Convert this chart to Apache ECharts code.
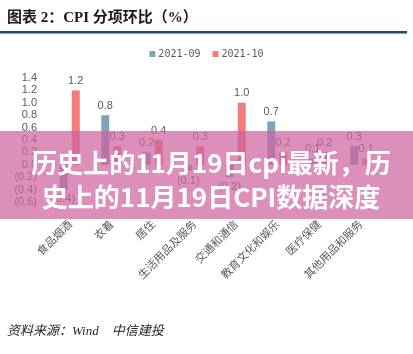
<!DOCTYPE html>
<html>
<head>
<meta charset="utf-8">
<script src="https://cdn.jsdelivr.net/npm/echarts@6/dist/echarts.min.js"></script>
<style>
html,body{margin:0;padding:0;background:#fff;}
#c{width:413px;height:354px;}
</style>
</head>
<body>
<div id="c"></div>
<script>
var categories = ['食品烟酒','衣着','居住','生活用品及服务','交通和通信','教育文化和娱乐','医疗保健','其他用品和服务'];
var seriesNames = ['2021-09','2021-10'];
var sep2021 = [-0.4, 0.8, 0.2, -0.1, -0.2, 0.7, 0.1, 0.3];
var oct2021 = [1.2, 0.3, 0.4, 0.3, 1.0, 0.2, 0.2, 0.1];
var yTicks = { min: -0.6, max: 1.4, step: 0.2 };

function fmt(v){ v = Number(v); return v < 0 ? '(' + Math.abs(v).toFixed(1) + ')' : v.toFixed(1); }

var chart = echarts.init(document.getElementById('c'), null, {renderer:'canvas'});
var labelStyle = {
  show: true,
  fontSize: 11,
  color: '#595959',
  fontFamily: 'Liberation Sans, Arial, sans-serif',
  formatter: function(p){ return fmt(p.value); },
  position: 'top',
  distance: 4
};
function mkData(arr){
  return arr.map(function(v){
    return v < 0 ? { value: v, label: { position: 'bottom' } } : v;
  });
}
chart.setOption({
  animation: false,
  backgroundColor: '#ffffff',
  legend: {
    top: 44,
    left: 'center',
    itemWidth: 6,
    itemHeight: 6,
    itemGap: 12,
    icon: 'rect',
    textStyle: { fontSize: 10, color: '#595959', fontFamily: 'DejaVu Sans Mono, monospace', padding: [0,0,0,-2] },
    data: seriesNames
  },
  grid: { left: 49, right: 32, top: 78, bottom: 152, containLabel: false },
  xAxis: {
    type: 'category',
    data: categories,
    axisLine: { show: false, onZero: false },
    axisTick: { show: false },
    axisLabel: {
      rotate: 45,
      interval: 0,
      margin: 20,
      fontSize: 11,
      color: '#595959',
      fontFamily: 'Noto Sans CJK SC'
    }
  },
  yAxis: {
    type: 'value',
    min: yTicks.min,
    max: yTicks.max,
    interval: yTicks.step,
    splitLine: { show: false },
    axisLine: { show: false },
    axisTick: { show: false },
    axisLabel: {
      fontSize: 11,
      color: '#595959',
      margin: 12,
      fontFamily: 'Liberation Sans, Arial, sans-serif',
      formatter: fmt
    }
  },
  series: [
    { name: seriesNames[0], type: 'bar', barWidth: 8, barGap: '50%',
      itemStyle: { color: '#7fa3b9' }, label: labelStyle, data: mkData(sep2021) },
    { name: seriesNames[1], type: 'bar', barWidth: 8, barGap: '50%',
      itemStyle: { color: '#f47c7c' }, label: labelStyle, data: mkData(oct2021) }
  ],
  graphic: [
    { type: 'text', left: 7, top: 11, z: 10,
      style: { text: '图表 2：CPI 分项环比（%）', fontSize: 15, fontWeight: 'bold',
               fontFamily: 'Liberation Serif, Noto Sans CJK SC', fill: '#1a1a1a' } },
    { type: 'rect', shape: { x: 0, y: 31, width: 407, height: 2.5 }, z: 10,
      style: { fill: '#1f4e6b' } },
    { type: 'text', left: 7, top: 325, z: 10,
      style: { text: '资料来源：Wind　中信建投', fontSize: 13, fontStyle: 'italic',
               fontFamily: 'Liberation Serif, Noto Sans CJK SC', fill: '#262626' } },
    { type: 'rect', shape: { x: 0, y: 131, width: 413, height: 88 }, z: 100,
      style: { fill: 'rgba(205,100,160,0.72)' } },
    { type: 'text', x: 211, y: 180, z: 101,
      style: { text: '历史上的11月19日cpi最新，历\n史上的11月19日CPI数据深度',
               fontSize: 26, fontWeight: 'bold', lineHeight: 34,
               fontFamily: 'Noto Sans CJK SC', fill: '#ffffff',
               textAlign: 'center', textVerticalAlign: 'middle' } }
  ]
});
</script>
</body>
</html>
